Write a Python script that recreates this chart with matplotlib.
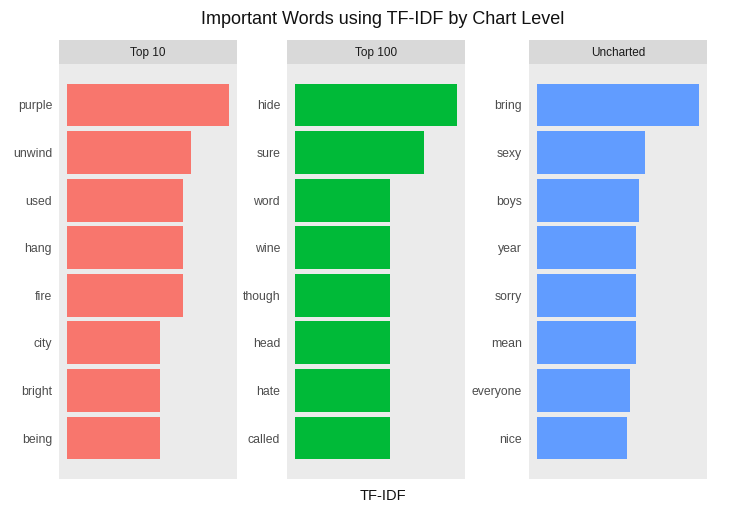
import matplotlib
matplotlib.use("Agg")
from matplotlib import pyplot as plt

plt.rcParams["font.family"] = ["Liberation Sans", "DejaVu Sans"]

# facet names
levels = ["Top 10", "Top 100", "Uncharted"]

# words per facet, top to bottom
top10_words = ["purple", "unwind", "used", "hang", "fire", "city", "bright", "being"]
top100_words = ["hide", "sure", "word", "wine", "though", "head", "hate", "called"]
uncharted_words = ["bring", "sexy", "boys", "year", "sorry", "mean", "everyone", "nice"]

# tf-idf values
top10_tfidf = [0.00098, 0.00075, 0.00070, 0.00070, 0.00070, 0.00056, 0.00056, 0.00056]
top100_tfidf = [0.00102, 0.00081, 0.00060, 0.00060, 0.00060, 0.00060, 0.00060, 0.00060]
uncharted_tfidf = [0.00054, 0.00036, 0.00034, 0.00033, 0.00033, 0.00033, 0.00031, 0.00030]

colors = ["#F8766D", "#00BA38", "#619CFF"]
panel_bg = "#EBEBEB"
strip_bg = "#D9D9D9"

W, H = 740, 518
fig = plt.figure(figsize=(W / 100, H / 100), dpi=100)

panel_left = [59, 287, 529]
panel_w = 178
panel_top, panel_bot = 64, 479
strip_h = 24

data = [
    (top10_words, top10_tfidf),
    (top100_words, top100_tfidf),
    (uncharted_words, uncharted_tfidf),
]

for i, (words, vals) in enumerate(data):
    ax = fig.add_axes([panel_left[i] / W, (H - panel_bot) / H,
                       panel_w / W, (panel_bot - panel_top) / H])
    ax.set_facecolor(panel_bg)
    ypos = list(range(len(words)))
    ax.barh(ypos, vals, height=0.9, color=colors[i], edgecolor="none")
    ax.set_ylim(len(words) - 1 + 0.86, -0.86)
    xmax = max(vals)
    ax.set_xlim(-0.05 * xmax, 1.05 * xmax)
    ax.set_yticks(ypos)
    ax.set_yticklabels(words, fontsize=8.8, color="#4D4D4D")
    ax.tick_params(axis="y", length=0, pad=5)
    ax.set_xticks([])
    for s in ax.spines.values():
        s.set_visible(False)

    sax = fig.add_axes([panel_left[i] / W, (H - panel_top) / H,
                        panel_w / W, strip_h / H])
    sax.set_facecolor(strip_bg)
    sax.set_xticks([])
    sax.set_yticks([])
    for s in sax.spines.values():
        s.set_visible(False)
    sax.text(0.5, 0.45, levels[i], ha="center", va="center",
             fontsize=8.5, color="#1A1A1A", transform=sax.transAxes)

fig.text(383 / W, 1 - 20 / H, "Important Words using TF-IDF by Chart Level",
         ha="center", va="center", fontsize=13, color="#111111")
fig.text(383 / W, 1 - 496 / H, "TF-IDF", ha="center", va="center",
         fontsize=10.5, color="#111111")

fig.savefig("out.png", dpi=100, facecolor="white")
